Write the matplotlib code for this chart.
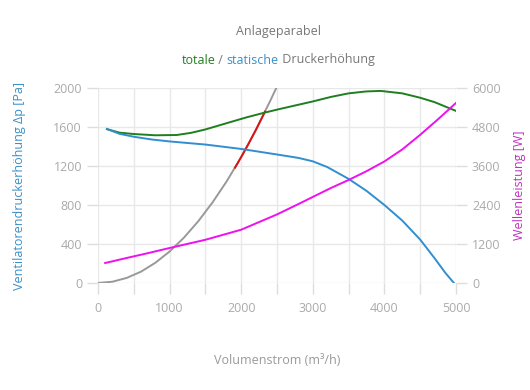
import matplotlib
matplotlib.use("Agg")
import matplotlib.pyplot as plt

plt.rcParams['font.family'] = ['Open Sans', 'DejaVu Sans']

# Volumenstrom (m3/h) / Druck (Pa) - statische Druckerhöhung
q_stat = [125, 300, 500, 750, 1000, 1500, 2000, 2500, 2800, 3000, 3200, 3500, 3750, 4000, 4250, 4500, 4700, 4850, 5000]
p_stat = [1580, 1530, 1500, 1472, 1452, 1420, 1375, 1318, 1283, 1248, 1190, 1068, 945, 800, 640, 445, 255, 105, -25]

# totale Druckerhöhung
q_tot = [125, 300, 500, 800, 1100, 1300, 1500, 1800, 2080, 2330, 2540, 3000, 3250, 3500, 3750, 3950, 4250, 4500, 4700, 4900, 5000]
p_tot = [1578, 1542, 1528, 1515, 1518, 1540, 1575, 1640, 1700, 1748, 1785, 1862, 1908, 1945, 1965, 1970, 1945, 1900, 1855, 1795, 1765]

# Wellenleistung (W)
q_pow = [100, 400, 700, 1000, 1500, 2000, 2500, 2800, 3250, 3500, 3750, 4000, 4250, 4500, 4750, 5000]
p_pow = [615, 770, 920, 1077, 1330, 1640, 2110, 2430, 2920, 3170, 3440, 3740, 4110, 4560, 5040, 5540]

# Anlageparabel
q_anl = [0, 200, 400, 600, 800, 1000, 1200, 1400, 1600, 1800, 2000, 2200, 2400, 2490]
p_anl = [0, 13, 52, 116, 207, 323, 465, 633, 827, 1046, 1292, 1563, 1860, 2000]
# Betriebsbereich (rot)
q_bb = [1914, 2000, 2100, 2200, 2333]
p_bb = [1183, 1292, 1424, 1563, 1758]

grau = '#999999'
blau = '#3a8fc8'
gruen = '#1f7f1f'
lila = '#ee10ee'

fig = plt.figure(figsize=(5.3, 3.9), dpi=100)
ax = fig.add_axes([98/530, 1-283/390, (456-98)/530, (283-88)/390])
ax2 = ax.twinx()

ax.plot(q_anl, p_anl, color=grau, lw=1.4, zorder=2)
ax.plot(q_bb, p_bb, color='#dd1111', lw=1.4, zorder=3)
ax.plot(q_tot, p_tot, color=gruen, lw=1.4, zorder=3)
ax.plot(q_stat, p_stat, color='#2f8fd0', lw=1.4, zorder=3)
ax2.plot(q_pow, p_pow, color=lila, lw=1.4)

ax.set_xlim(0, 5000)
ax.set_ylim(0, 2000)
ax2.set_ylim(0, 6000)
ax.set_xticks(range(0, 5001, 1000))
ax.set_xticks(range(500, 5000, 1000), minor=True)
ax.set_yticks(range(0, 2001, 400))
ax2.set_yticks(range(0, 6001, 1200))

for a in (ax, ax2):
    for s in a.spines.values():
        s.set_visible(False)
    a.tick_params(which='both', colors='#dddddd', labelcolor='#aaaaaa', labelsize=9, length=8, width=1)
ax.tick_params(axis='x', pad=6)
ax.grid(True, which='both', color='#e8e8e8', lw=1)
ax.set_axisbelow(True)

ax.set_xlabel('Volumenstrom (m³/h)', color='#999999', fontsize=9, labelpad=28)
ax.set_ylabel('Ventilatorendruckerhöhung Δp [Pa]', color=blau, fontsize=9, labelpad=20)
ax2.set_ylabel('Wellenleistung [W]', color='#c030c0', fontsize=9, labelpad=9)

fig.text(278/530, 1-31/390, 'Anlageparabel', color='#777777', fontsize=9, ha='center', va='center')

# Untertitel mit farbigen Teilen
teile = [('totale', gruen), (' / ', '#777777'), ('statische', blau), (' Druckerhöhung', '#777777')]
r = fig.canvas.get_renderer()
txts = []
breite = 0
for s, c in teile:
    t = fig.text(0, 1-60/390, s, color=c, fontsize=9, va='center')
    w = t.get_window_extent(r).width
    txts.append((t, w))
    breite += w
x0 = 278 - breite / 2
for t, w in txts:
    t.set_x(x0 / 530)
    x0 += w

fig.savefig('out.png', dpi=100)
